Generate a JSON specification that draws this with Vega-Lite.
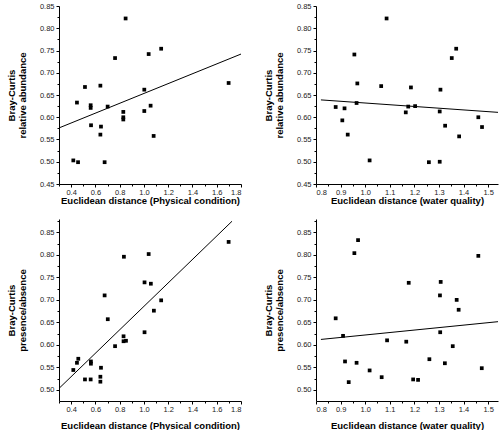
{
  "$schema": "https://vega.github.io/schema/vega-lite/v6.json",
  "background": "white",
  "padding": {"left": 6, "top": 2, "right": 0, "bottom": 0},
  "columns": 2,
  "spacing": {"row": 14, "column": 20},
  "config": {
    "view": {"stroke": null},
    "font": "Liberation Sans",
    "axis": {
      "grid": false,
      "domainColor": "black",
      "domainWidth": 1,
      "tickColor": "black",
      "tickSize": 3,
      "labelFont": "Liberation Sans",
      "labelFontSize": 7.5,
      "labelColor": "#222222",
      "labelPadding": 2,
      "titleFont": "Liberation Sans",
      "titleFontSize": 9.5,
      "titleFontWeight": "bold",
      "titleColor": "black",
      "titleLineHeight": 10.5
    },
    "axisY": {"titlePadding": 12},
    "axisX": {"titlePadding": 0, "labelPadding": 1}
  },
  "concat": [
    {
      "width": 182, "height": 178,
      "resolve": {"axis": {"x": "independent", "y": "independent"}},
      "layer": [
        {
          "data": {"values": [
            {"x": 0.849, "y": 0.822}, {"x": 1.142, "y": 0.754}, {"x": 1.039, "y": 0.742}, {"x": 0.762, "y": 0.733},
            {"x": 1.698, "y": 0.677}, {"x": 0.641, "y": 0.671}, {"x": 0.514, "y": 0.668}, {"x": 1.003, "y": 0.662},
            {"x": 0.448, "y": 0.633}, {"x": 0.561, "y": 0.627}, {"x": 0.561, "y": 0.621}, {"x": 0.701, "y": 0.624},
            {"x": 1.055, "y": 0.626}, {"x": 0.830, "y": 0.612}, {"x": 1.003, "y": 0.614}, {"x": 0.830, "y": 0.600},
            {"x": 0.830, "y": 0.595}, {"x": 0.564, "y": 0.582}, {"x": 0.646, "y": 0.579}, {"x": 0.641, "y": 0.561},
            {"x": 1.080, "y": 0.558}, {"x": 0.418, "y": 0.503}, {"x": 0.457, "y": 0.499}, {"x": 0.676, "y": 0.499}
          ]},
          "mark": {"type": "point", "shape": "square", "filled": true, "color": "black", "size": 14, "opacity": 1},
          "encoding": {
            "x": {"field": "x", "type": "quantitative", "scale": {"domain": [0.3, 1.8], "nice": false, "zero": false},
                  "axis": {"values": [0.4, 0.6, 0.8, 1.0, 1.2, 1.4, 1.6, 1.8], "format": ".1f", "title": "Euclidean distance (Physical condition)"}},
            "y": {"field": "y", "type": "quantitative", "scale": {"domain": [0.45, 0.85], "nice": false, "zero": false},
                  "axis": {"values": [0.45, 0.5, 0.55, 0.6, 0.65, 0.7, 0.75, 0.8, 0.85], "format": ".2f", "title": ["Bray-Curtis", "relative abundance"]}}
          }
        },
        {
          "data": {"values": [{"x": 0.3, "y": 0.576}, {"x": 1.8, "y": 0.742}]},
          "mark": {"type": "line", "color": "black", "strokeWidth": 1},
          "encoding": {
            "x": {"field": "x", "type": "quantitative", "scale": {"domain": [0.3, 1.8], "nice": false, "zero": false},
                  "axis": {"orient": "bottom", "values": [0.3, 0.5, 0.7, 0.9, 1.1, 1.3, 1.5, 1.7], "labels": false, "domain": false, "tickSize": 2, "title": null}},
            "y": {"field": "y", "type": "quantitative", "scale": {"domain": [0.45, 0.85], "nice": false, "zero": false},
                  "axis": {"orient": "left", "values": [0.475, 0.525, 0.575, 0.625, 0.675, 0.725, 0.775, 0.825], "labels": false, "domain": false, "tickSize": 2, "title": null}}
          }
        },
        {
          "mark": {"type": "text", "text": "R²=0.17", "align": "left", "baseline": "middle", "fontSize": 9, "fontWeight": "bold", "color": "black"},
          "encoding": {"x": {"datum": 0.35, "type": "quantitative", "axis": null}, "y": {"datum": 0.832, "type": "quantitative", "axis": null}}
        },
        {
          "mark": {"type": "text", "text": "p", "align": "left", "baseline": "middle", "fontSize": 9, "fontWeight": "bold", "fontStyle": "italic", "color": "black"},
          "encoding": {"x": {"datum": 0.35, "type": "quantitative", "axis": null}, "y": {"datum": 0.807, "type": "quantitative", "axis": null}}
        },
        {
          "mark": {"type": "text", "text": "=0.04", "align": "left", "baseline": "middle", "dx": 7, "fontSize": 9, "fontWeight": "bold", "color": "black"},
          "encoding": {"x": {"datum": 0.35, "type": "quantitative", "axis": null}, "y": {"datum": 0.807, "type": "quantitative", "axis": null}}
        }
      ]
    },
    {
      "width": 182, "height": 178,
      "resolve": {"axis": {"x": "independent", "y": "independent"}},
      "layer": [
        {
          "data": {"values": [
            {"x": 1.087, "y": 0.822}, {"x": 1.370, "y": 0.754}, {"x": 1.352, "y": 0.733}, {"x": 0.956, "y": 0.741},
            {"x": 0.968, "y": 0.676}, {"x": 1.065, "y": 0.670}, {"x": 1.186, "y": 0.667}, {"x": 1.306, "y": 0.662},
            {"x": 0.965, "y": 0.632}, {"x": 0.880, "y": 0.623}, {"x": 0.916, "y": 0.620}, {"x": 1.175, "y": 0.624},
            {"x": 1.203, "y": 0.625}, {"x": 1.165, "y": 0.611}, {"x": 1.303, "y": 0.613}, {"x": 1.460, "y": 0.600},
            {"x": 0.907, "y": 0.593}, {"x": 1.325, "y": 0.581}, {"x": 1.475, "y": 0.578}, {"x": 0.929, "y": 0.561},
            {"x": 1.382, "y": 0.557}, {"x": 1.018, "y": 0.503}, {"x": 1.259, "y": 0.499}, {"x": 1.303, "y": 0.500}
          ]},
          "mark": {"type": "point", "shape": "square", "filled": true, "color": "black", "size": 14, "opacity": 1},
          "encoding": {
            "x": {"field": "x", "type": "quantitative", "scale": {"domain": [0.8, 1.54], "nice": false, "zero": false},
                  "axis": {"values": [0.8, 0.9, 1.0, 1.1, 1.2, 1.3, 1.4, 1.5], "format": ".1f", "title": "Euclidean distance (water quality)"}},
            "y": {"field": "y", "type": "quantitative", "scale": {"domain": [0.45, 0.85], "nice": false, "zero": false},
                  "axis": {"values": [0.45, 0.5, 0.55, 0.6, 0.65, 0.7, 0.75, 0.8, 0.85], "format": ".2f", "title": ["Bray-Curtis", "relative abundance"]}}
          }
        },
        {
          "data": {"values": [{"x": 0.82, "y": 0.639}, {"x": 1.54, "y": 0.611}]},
          "mark": {"type": "line", "color": "black", "strokeWidth": 1},
          "encoding": {
            "x": {"field": "x", "type": "quantitative", "scale": {"domain": [0.8, 1.54], "nice": false, "zero": false},
                  "axis": {"orient": "bottom", "values": [0.85, 0.95, 1.05, 1.15, 1.25, 1.35, 1.45], "labels": false, "domain": false, "tickSize": 2, "title": null}},
            "y": {"field": "y", "type": "quantitative", "scale": {"domain": [0.45, 0.85], "nice": false, "zero": false},
                  "axis": {"orient": "left", "values": [0.475, 0.525, 0.575, 0.625, 0.675, 0.725, 0.775, 0.825], "labels": false, "domain": false, "tickSize": 2, "title": null}}
          }
        },
        {
          "mark": {"type": "text", "text": "R²=0.01", "align": "left", "baseline": "middle", "fontSize": 9.5, "fontWeight": "bold", "color": "black"},
          "encoding": {"x": {"datum": 0.828, "type": "quantitative", "axis": null}, "y": {"datum": 0.826, "type": "quantitative", "axis": null}}
        },
        {
          "mark": {"type": "text", "text": "p", "align": "left", "baseline": "middle", "fontSize": 9, "fontWeight": "bold", "fontStyle": "italic", "color": "black"},
          "encoding": {"x": {"datum": 0.828, "type": "quantitative", "axis": null}, "y": {"datum": 0.8, "type": "quantitative", "axis": null}}
        },
        {
          "mark": {"type": "text", "text": "=0.654", "align": "left", "baseline": "middle", "dx": 8, "fontSize": 9, "fontWeight": "bold", "color": "black"},
          "encoding": {"x": {"datum": 0.828, "type": "quantitative", "axis": null}, "y": {"datum": 0.8, "type": "quantitative", "axis": null}}
        }
      ]
    },
    {
      "width": 182, "height": 182,
      "resolve": {"axis": {"x": "independent", "y": "independent"}},
      "layer": [
        {
          "data": {"values": [
            {"x": 1.698, "y": 0.829}, {"x": 1.039, "y": 0.802}, {"x": 0.835, "y": 0.796}, {"x": 1.005, "y": 0.739},
            {"x": 1.057, "y": 0.736}, {"x": 0.676, "y": 0.710}, {"x": 1.142, "y": 0.699}, {"x": 1.082, "y": 0.676},
            {"x": 0.702, "y": 0.657}, {"x": 1.005, "y": 0.628}, {"x": 0.832, "y": 0.619}, {"x": 0.832, "y": 0.608},
            {"x": 0.852, "y": 0.609}, {"x": 0.762, "y": 0.597}, {"x": 0.459, "y": 0.569}, {"x": 0.448, "y": 0.560},
            {"x": 0.563, "y": 0.563}, {"x": 0.563, "y": 0.558}, {"x": 0.418, "y": 0.544}, {"x": 0.646, "y": 0.549},
            {"x": 0.641, "y": 0.529}, {"x": 0.514, "y": 0.523}, {"x": 0.561, "y": 0.523}, {"x": 0.641, "y": 0.518}
          ]},
          "mark": {"type": "point", "shape": "square", "filled": true, "color": "black", "size": 14, "opacity": 1},
          "encoding": {
            "x": {"field": "x", "type": "quantitative", "scale": {"domain": [0.3, 1.8], "nice": false, "zero": false},
                  "axis": {"values": [0.4, 0.6, 0.8, 1.0, 1.2, 1.4, 1.6, 1.8], "format": ".1f", "titlePadding": 8, "title": "Euclidean distance (Physical condition)"}},
            "y": {"field": "y", "type": "quantitative", "scale": {"domain": [0.475, 0.88], "nice": false, "zero": false},
                  "axis": {"values": [0.5, 0.55, 0.6, 0.65, 0.7, 0.75, 0.8, 0.85], "format": ".2f", "title": ["Bray-Curtis", "presence/absence"]}}
          }
        },
        {
          "data": {"values": [{"x": 0.3, "y": 0.503}, {"x": 1.726, "y": 0.875}]},
          "mark": {"type": "line", "color": "black", "strokeWidth": 1},
          "encoding": {
            "x": {"field": "x", "type": "quantitative", "scale": {"domain": [0.3, 1.8], "nice": false, "zero": false},
                  "axis": {"orient": "bottom", "values": [0.3, 0.5, 0.7, 0.9, 1.1, 1.3, 1.5, 1.7], "labels": false, "domain": false, "tickSize": 2, "title": null}},
            "y": {"field": "y", "type": "quantitative", "scale": {"domain": [0.475, 0.88], "nice": false, "zero": false},
                  "axis": {"orient": "left", "values": [0.525, 0.575, 0.625, 0.675, 0.725, 0.775, 0.825, 0.875], "labels": false, "domain": false, "tickSize": 2, "title": null}}
          }
        },
        {
          "mark": {"type": "text", "text": "R²=0.63", "align": "left", "baseline": "middle", "fontSize": 9, "fontWeight": "bold", "color": "black"},
          "encoding": {"x": {"datum": 0.405, "type": "quantitative", "axis": null}, "y": {"datum": 0.838, "type": "quantitative", "axis": null}}
        },
        {
          "mark": {"type": "text", "text": "p", "align": "left", "baseline": "middle", "fontSize": 9, "fontWeight": "bold", "fontStyle": "italic", "color": "black"},
          "encoding": {"x": {"datum": 0.405, "type": "quantitative", "axis": null}, "y": {"datum": 0.815, "type": "quantitative", "axis": null}}
        },
        {
          "mark": {"type": "text", "text": "<0.001", "align": "left", "baseline": "middle", "dx": 7, "fontSize": 9, "fontWeight": "bold", "color": "black"},
          "encoding": {"x": {"datum": 0.405, "type": "quantitative", "axis": null}, "y": {"datum": 0.815, "type": "quantitative", "axis": null}}
        }
      ]
    },
    {
      "width": 182, "height": 182,
      "resolve": {"axis": {"x": "independent", "y": "independent"}},
      "layer": [
        {
          "data": {"values": [
            {"x": 0.971, "y": 0.833}, {"x": 0.956, "y": 0.804}, {"x": 0.880, "y": 0.659}, {"x": 0.910, "y": 0.620},
            {"x": 0.918, "y": 0.563}, {"x": 0.965, "y": 0.560}, {"x": 0.933, "y": 0.517}, {"x": 1.018, "y": 0.543},
            {"x": 1.067, "y": 0.528}, {"x": 1.089, "y": 0.610}, {"x": 1.460, "y": 0.798}, {"x": 1.177, "y": 0.738},
            {"x": 1.307, "y": 0.740}, {"x": 1.304, "y": 0.710}, {"x": 1.372, "y": 0.700}, {"x": 1.380, "y": 0.678},
            {"x": 1.305, "y": 0.628}, {"x": 1.167, "y": 0.607}, {"x": 1.356, "y": 0.597}, {"x": 1.261, "y": 0.568},
            {"x": 1.324, "y": 0.559}, {"x": 1.474, "y": 0.548}, {"x": 1.195, "y": 0.523}, {"x": 1.215, "y": 0.522}
          ]},
          "mark": {"type": "point", "shape": "square", "filled": true, "color": "black", "size": 14, "opacity": 1},
          "encoding": {
            "x": {"field": "x", "type": "quantitative", "scale": {"domain": [0.8, 1.54], "nice": false, "zero": false},
                  "axis": {"values": [0.8, 0.9, 1.0, 1.1, 1.2, 1.3, 1.4, 1.5], "format": ".1f", "titlePadding": 8, "title": "Euclidean distance (water quality)"}},
            "y": {"field": "y", "type": "quantitative", "scale": {"domain": [0.475, 0.88], "nice": false, "zero": false},
                  "axis": {"values": [0.5, 0.55, 0.6, 0.65, 0.7, 0.75, 0.8, 0.85], "format": ".2f", "title": ["Bray-Curtis", "presence/absence"]}}
          }
        },
        {
          "data": {"values": [{"x": 0.82, "y": 0.612}, {"x": 1.54, "y": 0.6515}]},
          "mark": {"type": "line", "color": "black", "strokeWidth": 1},
          "encoding": {
            "x": {"field": "x", "type": "quantitative", "scale": {"domain": [0.8, 1.54], "nice": false, "zero": false},
                  "axis": {"orient": "bottom", "values": [0.85, 0.95, 1.05, 1.15, 1.25, 1.35, 1.45], "labels": false, "domain": false, "tickSize": 2, "title": null}},
            "y": {"field": "y", "type": "quantitative", "scale": {"domain": [0.475, 0.88], "nice": false, "zero": false},
                  "axis": {"orient": "left", "values": [0.525, 0.575, 0.625, 0.675, 0.725, 0.775, 0.825, 0.875], "labels": false, "domain": false, "tickSize": 2, "title": null}}
          }
        },
        {
          "mark": {"type": "text", "text": "R²=0.01", "align": "left", "baseline": "middle", "fontSize": 9, "fontWeight": "bold", "color": "black"},
          "encoding": {"x": {"datum": 0.841, "type": "quantitative", "axis": null}, "y": {"datum": 0.848, "type": "quantitative", "axis": null}}
        },
        {
          "mark": {"type": "text", "text": "p", "align": "left", "baseline": "middle", "fontSize": 9, "fontWeight": "bold", "fontStyle": "italic", "color": "black"},
          "encoding": {"x": {"datum": 0.841, "type": "quantitative", "axis": null}, "y": {"datum": 0.822, "type": "quantitative", "axis": null}}
        },
        {
          "mark": {"type": "text", "text": "=0.611", "align": "left", "baseline": "middle", "dx": 5, "fontSize": 9, "fontWeight": "bold", "color": "black"},
          "encoding": {"x": {"datum": 0.841, "type": "quantitative", "axis": null}, "y": {"datum": 0.822, "type": "quantitative", "axis": null}}
        }
      ]
    }
  ]
}
